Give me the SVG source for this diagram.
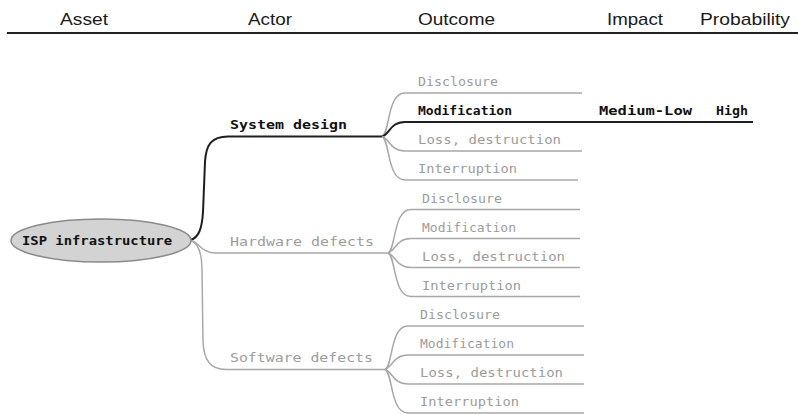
<svg xmlns="http://www.w3.org/2000/svg" width="798" height="414" viewBox="0 0 798 414">
  <style>
    .hdr { font-family: "Liberation Sans", Arial, sans-serif; font-size: 17px; fill: #1a1a1a; }
    .px { font-family: "DejaVu Sans Mono", "Liberation Mono", monospace; font-size: 13px; }
    .dim { fill: #9c9c9c; }
    .hot { fill: #111; font-weight: bold; }
    .ln-dim { fill: none; stroke: #a8a8a8; stroke-width: 1.5; }
    .ln-hot { fill: none; stroke: #1e1e1e; stroke-width: 2; }
  </style>
  <rect width="798" height="414" fill="#fff"/>

  <!-- column headings -->
  <g id="header">
    <text class="hdr" x="60" y="25" textLength="48" lengthAdjust="spacingAndGlyphs">Asset</text>
    <text class="hdr" x="248" y="25" textLength="44" lengthAdjust="spacingAndGlyphs">Actor</text>
    <text class="hdr" x="418" y="25" textLength="77" lengthAdjust="spacingAndGlyphs">Outcome</text>
    <text class="hdr" x="607" y="25" textLength="56" lengthAdjust="spacingAndGlyphs">Impact</text>
    <text class="hdr" x="700" y="25" textLength="90" lengthAdjust="spacingAndGlyphs">Probability</text>
    <line x1="7" y1="33" x2="798" y2="33" stroke="#222" stroke-width="2"/>
  </g>

  <!-- branches -->
  <g id="connectors">
    <!-- asset to actors -->
    <path class="ln-hot" d="M190,240 C199,238 202,228 203,212 L205,162 C206,145 211,136.5 228,136.5 L382,136.5"/>
    <path class="ln-dim" d="M190,240 C199,242 201,253 216,253 L388,253"/>
    <path class="ln-dim" d="M190,240 C199,243 202,254 202,270 L203,342 C204,360 210,369.5 226,369.5 L385,369.5"/>

    <!-- system design outcomes -->
    <path class="ln-dim" d="M382,136.5 C390,133 387,93 405,93 L582,93"/>
    <path class="ln-hot" d="M382,136.5 C390,134 390,122 405,122 L753,122"/>
    <path class="ln-dim" d="M382,136.5 C390,139 390,151 405,151 L582,151"/>
    <path class="ln-dim" d="M382,136.5 C390,140 387,180 405,180 L578,180"/>

    <!-- hardware defects outcomes -->
    <path class="ln-dim" d="M388,253 C396,249.5 393,209.5 411,209.5 L580,209.5"/>
    <path class="ln-dim" d="M388,253 C396,250.5 396,238.5 411,238.5 L580,238.5"/>
    <path class="ln-dim" d="M388,253 C396,255.5 396,267.5 411,267.5 L580,267.5"/>
    <path class="ln-dim" d="M388,253 C396,256.5 393,296.5 411,296.5 L580,296.5"/>

    <!-- software defects outcomes -->
    <path class="ln-dim" d="M385,369.5 C393,366 390,326 408,326 L584,326"/>
    <path class="ln-dim" d="M385,369.5 C393,367 393,355 408,355 L584,355"/>
    <path class="ln-dim" d="M385,369.5 C393,372 393,384 408,384 L584,384"/>
    <path class="ln-dim" d="M385,369.5 C393,373 390,413 408,413 L584,413"/>
  </g>

  <!-- asset -->
  <g id="isp-infrastructure">
    <ellipse cx="101" cy="240.5" rx="90" ry="21.5" fill="#d3d3d3" stroke="#8a8a8a" stroke-width="1.5"/>
    <text class="px hot" x="22" y="245" textLength="150" lengthAdjust="spacingAndGlyphs">ISP infrastructure</text>
  </g>

  <!-- actors -->
  <g id="system-design">
    <text class="px hot" x="230" y="129" textLength="117" lengthAdjust="spacingAndGlyphs">System design</text>
  </g>
  <g id="hardware-defects">
    <text class="px dim" x="230" y="246" textLength="144" lengthAdjust="spacingAndGlyphs">Hardware defects</text>
  </g>
  <g id="software-defects">
    <text class="px dim" x="230" y="362" textLength="143" lengthAdjust="spacingAndGlyphs">Software defects</text>
  </g>

  <!-- system design outcomes -->
  <g id="sd-disclosure">
    <text class="px dim" x="418" y="86" textLength="80" lengthAdjust="spacingAndGlyphs">Disclosure</text>
  </g>
  <g id="sd-modification">
    <text class="px hot" x="418" y="115" textLength="94" lengthAdjust="spacingAndGlyphs">Modification</text>
    <text class="px hot" x="599" y="115" textLength="93" lengthAdjust="spacingAndGlyphs">Medium-Low</text>
    <text class="px hot" x="716" y="115" textLength="32" lengthAdjust="spacingAndGlyphs">High</text>
  </g>
  <g id="sd-loss">
    <text class="px dim" x="418" y="144" textLength="143" lengthAdjust="spacingAndGlyphs">Loss, destruction</text>
  </g>
  <g id="sd-interruption">
    <text class="px dim" x="418" y="173" textLength="99" lengthAdjust="spacingAndGlyphs">Interruption</text>
  </g>

  <!-- hardware defects outcomes -->
  <g id="hw-disclosure">
    <text class="px dim" x="422" y="202.5" textLength="80" lengthAdjust="spacingAndGlyphs">Disclosure</text>
  </g>
  <g id="hw-modification">
    <text class="px dim" x="422" y="231.5" textLength="94" lengthAdjust="spacingAndGlyphs">Modification</text>
  </g>
  <g id="hw-loss">
    <text class="px dim" x="422" y="260.5" textLength="143" lengthAdjust="spacingAndGlyphs">Loss, destruction</text>
  </g>
  <g id="hw-interruption">
    <text class="px dim" x="422" y="289.5" textLength="99" lengthAdjust="spacingAndGlyphs">Interruption</text>
  </g>

  <!-- software defects outcomes -->
  <g id="sw-disclosure">
    <text class="px dim" x="420" y="319" textLength="80" lengthAdjust="spacingAndGlyphs">Disclosure</text>
  </g>
  <g id="sw-modification">
    <text class="px dim" x="420" y="348" textLength="94" lengthAdjust="spacingAndGlyphs">Modification</text>
  </g>
  <g id="sw-loss">
    <text class="px dim" x="420" y="377" textLength="143" lengthAdjust="spacingAndGlyphs">Loss, destruction</text>
  </g>
  <g id="sw-interruption">
    <text class="px dim" x="420" y="406" textLength="99" lengthAdjust="spacingAndGlyphs">Interruption</text>
  </g>
</svg>
